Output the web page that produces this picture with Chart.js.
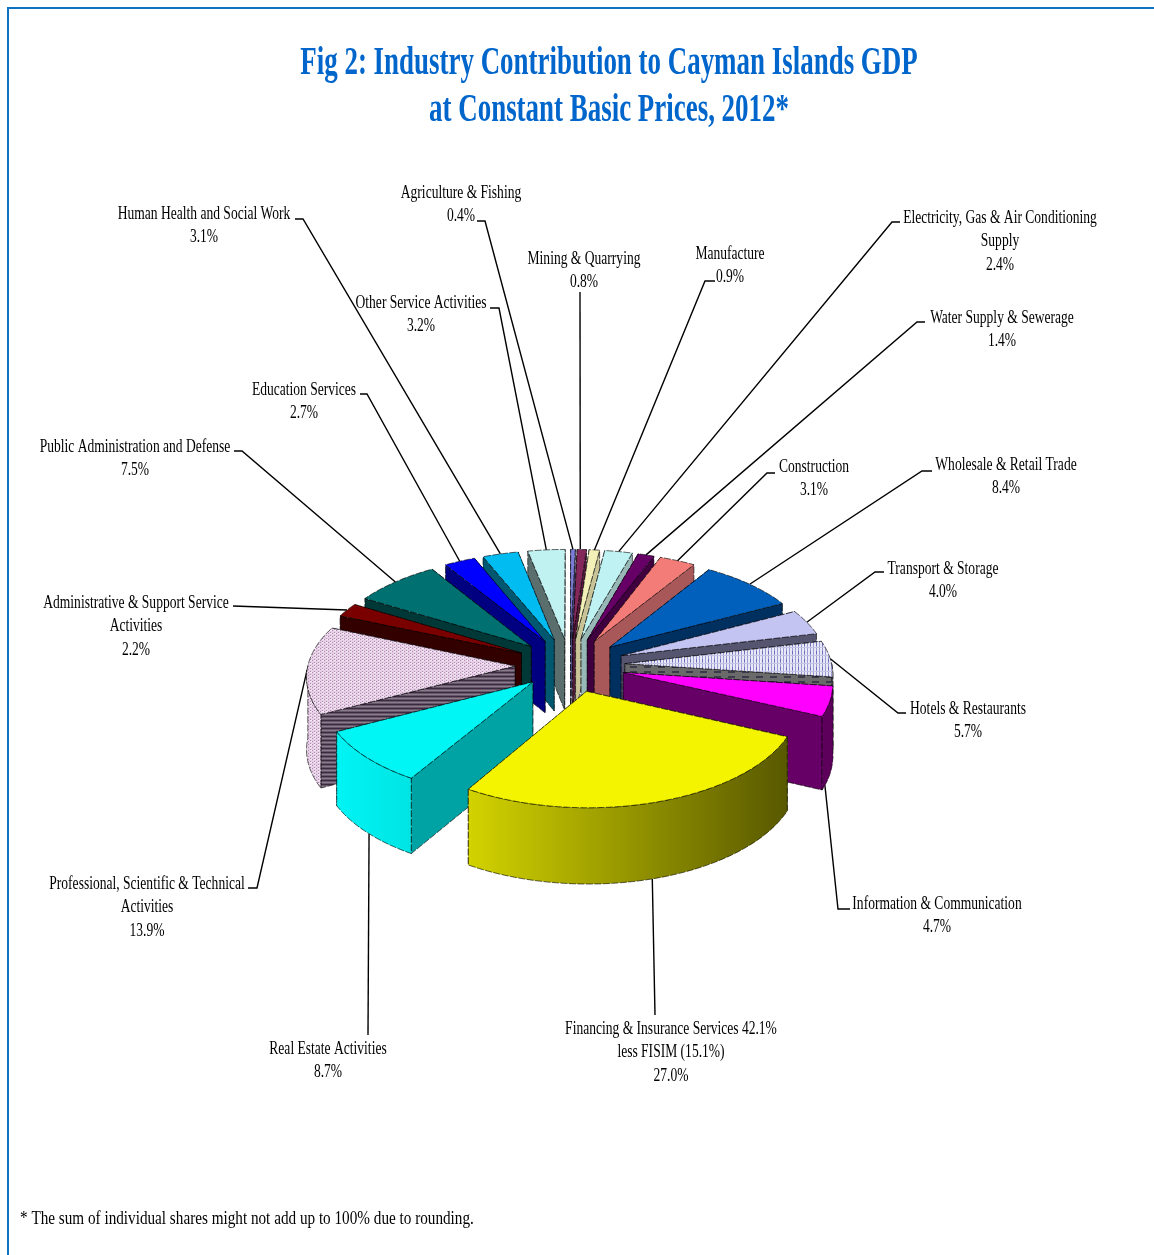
<!DOCTYPE html>
<html>
<head>
<meta charset="utf-8">
<title>Industry Contribution to Cayman Islands GDP</title>
<script src="https://cdn.jsdelivr.net/npm/chart.js@4"></script>
<style>
    html, body { margin: 0; padding: 0; background: #fff; overflow: hidden; }
    #frame { position: absolute; left: 7px; top: 7px; right: 0; bottom: 0; border-top: 2px solid #0b72c4; border-left: 2px solid #0b72c4; }
    #pie { position: absolute; left: 0; top: 0; }
</style>
</head>
<body>
<div id="frame"></div>
<canvas id="pie" width="1154" height="1255"></canvas>
<script>
const categories = [
    'Agriculture & Fishing', 'Mining & Quarrying', 'Manufacture',
    'Electricity, Gas & Air Conditioning Supply', 'Water Supply & Sewerage', 'Construction',
    'Wholesale & Retail Trade', 'Transport & Storage', 'Hotels & Restaurants',
    'Information & Communication', 'Financing & Insurance Services', 'Real Estate Activities',
    'Professional, Scientific & Technical Activities', 'Administrative & Support Service Activities',
    'Public Administration and Defense', 'Education Services', 'Human Health and Social Work',
    'Other Service Activities'
];
const shares = [0.4, 0.8, 0.9, 2.4, 1.4, 3.1, 8.4, 4.0, 5.7, 4.7, 27.0, 8.7, 13.9, 2.2, 7.5, 2.7, 3.1, 3.2];

// text lines above each share
const labelLines = [
    ['Agriculture & Fishing'], ['Mining & Quarrying'], ['Manufacture'],
    ['Electricity, Gas & Air Conditioning', 'Supply'], ['Water Supply & Sewerage'], ['Construction'],
    ['Wholesale & Retail Trade'], ['Transport & Storage'], ['Hotels & Restaurants'],
    ['Information & Communication'], ['Financing & Insurance Services 42.1%', 'less FISIM (15.1%)'], ['Real Estate Activities'],
    ['Professional, Scientific & Technical', 'Activities'], ['Administrative & Support Service', 'Activities'],
    ['Public Administration and Defense'], ['Education Services'], ['Human Health and Social Work'],
    ['Other Service Activities']
];
// label centre x, first baseline y
const labelPos = [
    [461, 198], [584, 264], [730, 259], [1000, 223], [1002, 323], [814, 472],
    [1006, 470], [943, 574], [968, 714], [937, 909], [671, 1034], [328, 1054],
    [147, 889], [136, 608], [135, 452], [304, 395], [204, 219], [421, 308]
];
// where each leader leaves its label: stub start, elbow
const leaderStart = [
    [[477, 221], [485, 221]], [[580, 292], [580, 292]], [[715, 281], [705, 281]],
    [[900, 222], [892, 222]], [[925, 322], [917, 322]], [[775, 473], [767, 473]],
    [[932, 471], [922, 471]], [[884, 572], [875, 572]], [[906, 713], [898, 713]],
    [[850, 909], [838, 909]], [[655, 1015], [655, 1015]], [[368, 1035], [368, 1035]],
    [[248, 888], [257, 888]], [[233, 606], [233, 606]], [[234, 451], [242, 451]],
    [[360, 394], [367, 394]], [[295, 219], [303, 219]], [[490, 308], [499, 308]]
];
// how far along its rim each leader lands, 0.5 is the middle
const leaderAim = [0.5, 0.33, 0.5, 0.5, 0.5, 0.5, 0.5, 0.5, 0.5, 0.85, 0.51, 0.47, 0.5, 0.5, 0.5, 0.5, 0.5, 0.5];

const titleLines = ['Fig 2: Industry Contribution to Cayman Islands GDP', 'at Constant Basic Prices, 2012*'];
const footnote = '* The sum of individual shares might not add up to 100% due to rounding.';

// small repeating fills
function makePattern(w, h, paint) {
    const c = document.createElement('canvas');
    c.width = w;
    c.height = h;
    paint(c.getContext('2d'));
    return c.getContext('2d').createPattern(c, 'repeat');
}
const pinkWeave = makePattern(4, 3, function (g) {
    g.fillStyle = '#e6d0e6';
    g.fillRect(0, 0, 4, 3);
    g.fillStyle = '#b48ab4';
    g.fillRect(0, 0, 1, 1);
    g.fillRect(2, 2, 1, 1);
    g.fillStyle = '#f4e8f4';
    g.fillRect(2, 0, 2, 1);
});
const hotelGrid = makePattern(6, 8, function (g) {
    g.fillStyle = '#e8e8f6';
    g.fillRect(0, 0, 6, 8);
    g.fillStyle = '#9c9cd4';
    g.fillRect(0, 0, 1, 8);
    g.fillRect(3, 0, 1, 8);
    g.fillStyle = '#6c6cbc';
    g.fillRect(0, 3, 1, 3);
    g.fillStyle = '#c4c4e6';
    g.fillRect(0, 7, 6, 1);
});
const pinkWallStripes = makePattern(4, 4, function (g) {
    g.fillStyle = '#66566a';
    g.fillRect(0, 0, 4, 4);
    g.fillStyle = '#3c2a40';
    g.fillRect(0, 0, 4, 1);
    g.fillStyle = '#8b7c8c';
    g.fillRect(0, 2, 4, 1);
});
const hotelWallDashes = makePattern(14, 5, function (g) {
    g.fillStyle = '#6a6a6a';
    g.fillRect(0, 0, 14, 5);
    g.fillStyle = '#3a3a4a';
    g.fillRect(0, 1, 7, 2);
});

const sliceColors = [
    '#7c7cd8', '#84285c', '#f3f0b8', '#bff3f3', '#660066', '#f47c78',
    '#0060bc', '#c4c4f2', hotelGrid, '#ff00ff', '#f4f400', '#00f5f5',
    pinkWeave, '#7a0000', '#007070', '#0000ff', '#00bcf0', '#c0f2f2'
];
const wallColors = [
    '#4a4a88', '#551a3c', '#c8c498', '#98b8b8', '#400040', '#a85858',
    '#003060', '#555570', hotelWallDashes, '#660066', '#8a8a00', '#00a3a3',
    pinkWallStripes, '#330000', '#003838', '#000080', '#005870', '#5a6e6e'
];
// radial pull of each slice, the real estate one sits a little closer in
const sliceOffsets = [55, 55, 55, 55, 55, 55, 55, 55, 55, 55, 55, 50, 55, 55, 55, 55, 55, 55];

// view of the tilted pie
const TILT = 0.49;
const PERSPECTIVE = 0.00042;
const DEPTH = 72;

function project(cx, cy, x, y) {
    const k = 1 / (1 - y * PERSPECTIVE);
    return { x: cx + x * k, y: cy + y * TILT * k, drop: DEPTH * Math.sqrt(k) };
}

function tracePoly(ctx, pts) {
    ctx.beginPath();
    pts.forEach(function (p, i) {
        if (i === 0) ctx.moveTo(p.x, p.y);
        else ctx.lineTo(p.x, p.y);
    });
    ctx.closePath();
}

function fillAndEdge(ctx, pts, fill) {
    tracePoly(ctx, pts);
    ctx.fillStyle = fill;
    ctx.fill();
    ctx.stroke();
}

function lowered(pts) {
    return pts.map(function (p) { return { x: p.x, y: p.y + p.drop }; });
}

// one exploded slice: apex and sampled rim in flat coordinates
function sliceShape(arc) {
    const mid = (arc.startAngle + arc.endAngle) / 2;
    const off = arc.options.offset;
    const ox = Math.cos(mid) * off;
    const oy = Math.sin(mid) * off;
    const r = arc.outerRadius;
    const at = function (a) {
        return project(arc.x, arc.y, ox + Math.cos(a) * r, oy + Math.sin(a) * r);
    };
    const rimBetween = function (a0, a1) {
        const n = Math.max(2, Math.ceil((a1 - a0) / 0.03));
        const pts = [];
        for (let i = 0; i <= n; i++) pts.push(at(a0 + (a1 - a0) * i / n));
        return pts;
    };
    return {
        mid: mid,
        apex: project(arc.x, arc.y, ox, oy),
        rim: rimBetween(arc.startAngle, arc.endAngle),
        at: at,
        rimBetween: rimBetween
    };
}

function drawSlice(ctx, arc, index) {
    const s = sliceShape(arc);
    const wall = wallColors[index];
    const first = s.rim[0];
    const last = s.rim[s.rim.length - 1];
    const edges = [first, last].sort(function (a, b) { return a.y - b.y; });

    ctx.strokeStyle = 'rgba(0,0,0,0.6)';
    ctx.lineWidth = 1;
    ctx.setLineDash([7, 1.5]);

    // radial walls, the one further back first
    edges.forEach(function (end) {
        const top = [s.apex, end];
        fillAndEdge(ctx, top.concat(lowered(top).reverse()), wall);
    });

    // rim wall only where it turns towards the viewer
    const a0 = Math.max(arc.startAngle, 0);
    const a1 = Math.min(arc.endAngle, Math.PI);
    if (a1 > a0) {
        const top = s.rimBetween(a0, a1);
        const poly = top.concat(lowered(top).reverse());
        const r = arc.outerRadius;
        const shade = ctx.createLinearGradient(arc.x - r * 1.15, 0, arc.x + r * 1.05, 0);
        shade.addColorStop(0, 'rgba(0,0,0,0)');
        shade.addColorStop(0.25, 'rgba(0,0,0,0.1)');
        shade.addColorStop(1, 'rgba(0,0,0,0.64)');
        fillAndEdge(ctx, poly, arc.options.backgroundColor);
        tracePoly(ctx, poly);
        ctx.fillStyle = shade;
        ctx.fill();
    }

    // top face
    fillAndEdge(ctx, [s.apex].concat(s.rim), arc.options.backgroundColor);
    ctx.setLineDash([]);
}

// narrow serif text, squeezed horizontally
function narrowText(ctx, text, x, y, font, squeeze, color) {
    ctx.save();
    ctx.font = font;
    ctx.fillStyle = color;
    ctx.textBaseline = 'alphabetic';
    ctx.translate(x, y);
    ctx.scale(squeeze, 1);
    ctx.fillText(text, 0, 0);
    ctx.restore();
}

const labelFont = '19px "Liberation Serif"';
const labelSqueeze = 0.713;

function drawLeader(ctx, arc, index) {
    const s = sliceShape(arc);
    const end = s.at(arc.startAngle + (arc.endAngle - arc.startAngle) * leaderAim[index]);
    // front slices hook the leader on the bottom of the rim wall
    const front = Math.sin(s.mid) > 0.2;
    const tip = { x: end.x, y: front ? end.y + end.drop : end.y };
    const from = leaderStart[index];
    ctx.beginPath();
    ctx.moveTo(from[0][0], from[0][1]);
    ctx.lineTo(from[1][0], from[1][1]);
    ctx.lineTo(tip.x, tip.y);
    ctx.strokeStyle = '#000';
    ctx.lineWidth = 1.4;
    ctx.stroke();
}

const tiltedPie = {
    id: 'tiltedPie',
    beforeDatasetsDraw: function (chart) {
        const ctx = chart.ctx;
        const arcs = chart.getDatasetMeta(0).data;
        ctx.save();
        arcs.forEach(function (arc, i) { drawLeader(ctx, arc, i); });
        // paint from the far side to the near side
        const order = arcs.map(function (arc, i) { return i; }).sort(function (a, b) {
            const ma = (arcs[a].startAngle + arcs[a].endAngle) / 2;
            const mb = (arcs[b].startAngle + arcs[b].endAngle) / 2;
            return Math.sin(ma) - Math.sin(mb);
        });
        order.forEach(function (i) { drawSlice(ctx, arcs[i], i); });
        ctx.restore();
        return false;
    },
    afterDraw: function (chart) {
        const ctx = chart.ctx;
        ctx.save();
        ctx.textAlign = 'center';
        titleLines.forEach(function (line, i) {
            narrowText(ctx, line, 609, 74 + i * 46.5, 'bold 41px "Liberation Serif"', 0.657, '#0066cc');
        });
        categories.forEach(function (name, i) {
            const lines = labelLines[i].concat([shares[i].toFixed(1) + '%']);
            lines.forEach(function (line, n) {
                narrowText(ctx, line, labelPos[i][0], labelPos[i][1] + n * 23.3, labelFont, labelSqueeze, '#000');
            });
        });
        ctx.textAlign = 'left';
        narrowText(ctx, footnote, 20, 1224, labelFont, 0.8, '#000');
        ctx.restore();
    }
};

new Chart(document.getElementById('pie'), {
    type: 'pie',
    data: {
        labels: categories,
        datasets: [{
            data: shares,
            backgroundColor: sliceColors,
            offset: sliceOffsets,
            borderWidth: 0
        }]
    },
    options: {
        responsive: false,
        animation: false,
        radius: 207,
        layout: { padding: { top: 75, right: 14, bottom: 0, left: 0 } },
        plugins: {
            legend: { display: false },
            tooltip: { enabled: false },
            title: { display: false }
        }
    },
    plugins: [tiltedPie]
});
</script>
</body>
</html>
